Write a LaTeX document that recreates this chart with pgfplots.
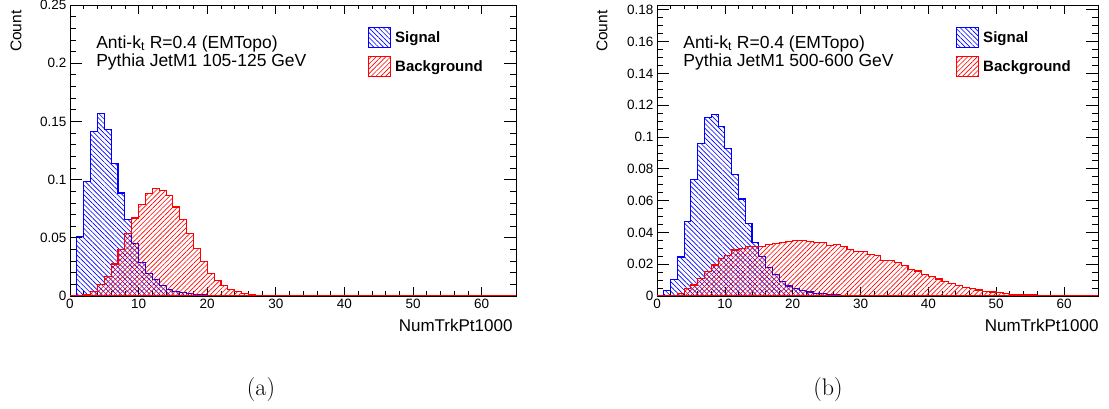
\documentclass[border=0pt]{standalone}
\usepackage{pgfplots}
\pgfplotsset{compat=1.18}
\usepackage{pgfplotstable}
\usepackage{fontspec}
\usetikzlibrary{patterns.meta}
\newfontfamily\rootfont{Liberation Sans}

% NumTrkPt1000, 105-125 GeV: bin left edge, signal, background
\pgfplotstableread{
x sig bkg
0 0 0
1 0.0512 0.0003
2 0.0980 0.0015
3 0.1410 0.0040
4 0.1570 0.0095
5 0.1430 0.0170
6 0.1140 0.0275
7 0.0885 0.0400
8 0.0660 0.0535
9 0.0450 0.0670
10 0.0290 0.0785
11 0.0190 0.0880
12 0.0138 0.0920
13 0.0093 0.0910
14 0.0055 0.0860
15 0.0038 0.0765
16 0.0028 0.0660
17 0.0019 0.0540
18 0.0013 0.0410
19 0.0009 0.0295
20 0.0006 0.0190
21 0.0004 0.0135
22 0.0003 0.0092
23 0.0002 0.0055
24 0.0001 0.0035
25 0 0.0022
26 0 0.0012
27 0 0.0007
28 0 0.0004
29 0 0.0002
30 0 0.0001
31 0 0
65 0 0
}\histlow

% NumTrkPt1000, 500-600 GeV
\pgfplotstableread{
x sig bkg
0 0.0004 0
1 0.0033 0.0001
2 0.0105 0.0004
3 0.0245 0.0015
4 0.0467 0.0048
5 0.0730 0.0069
6 0.0958 0.0109
7 0.1120 0.0153
8 0.1140 0.0195
9 0.1068 0.0236
10 0.0930 0.0257
11 0.0766 0.0289
12 0.0610 0.0300
13 0.0456 0.0310
14 0.0335 0.0314
15 0.0250 0.0312
16 0.0180 0.0326
17 0.0135 0.0330
18 0.0090 0.0335
19 0.0063 0.0340
20 0.0048 0.0350
21 0.0033 0.0347
22 0.0025 0.0345
23 0.0018 0.0337
24 0.0013 0.0335
25 0.0010 0.0318
26 0.0007 0.0322
27 0.0005 0.0312
28 0.0004 0.0292
29 0.0003 0.0282
30 0.0002 0.0280
31 0.0001 0.0260
32 0 0.0255
33 0 0.0226
34 0 0.0222
35 0 0.0210
36 0 0.0190
37 0 0.0165
38 0 0.0157
39 0 0.0135
40 0 0.0121
41 0 0.0107
42 0 0.0090
43 0 0.0080
44 0 0.0068
45 0 0.0055
46 0 0.0046
47 0 0.0038
48 0 0.0030
49 0 0.0025
50 0 0.0020
51 0 0.0016
52 0 0.0012
53 0 0.0010
54 0 0.0008
55 0 0.0006
56 0 0.0004
57 0 0.0003
58 0 0.0002
59 0 0.0002
60 0 0.0001
61 0 0
65 0 0
}\histhigh

\tikzset{
  infotext/.style={anchor=base west, font=\rootfont\fontsize{17.5}{17.5}\selectfont},
}

\pgfplotsset{
  rootaxis/.style={
    scale only axis, height=291pt,
    xmin=0, xmax=65, ymin=0,
    axis line style={line width=0.9pt},
    tick align=inside,
    xtick={0,10,20,30,40,50,60}, minor x tick num=4,
    major tick length=12pt, minor tick length=6pt,
    tick style={black, line width=0.7pt},
    xtick style={/pgfplots/major tick length=9pt, /pgfplots/minor tick length=4.5pt},
    scaled y ticks=false,
    yticklabel style={/pgf/number format/fixed, /pgf/number format/precision=2},
    /pgf/number format/assume math mode=true,
    tick label style={font=\rootfont\fontsize{13.5}{13.5}\selectfont},
    legend cell align=left,
    legend image code/.code={
      \draw[##1, line width=1pt] (0pt,-10pt) rectangle (22pt,10pt);
      \path (26pt,0pt);
    },
    legend style={draw=none, fill=none, inner sep=0pt, row sep=8pt,
      font=\rootfont\bfseries\fontsize{15}{15}\selectfont,
      nodes={inner sep=0pt}},
  },
  sig/.style={const plot, draw=blue, line width=1.1pt,
    pattern={Lines[angle=-45,distance=3.4pt,line width=0.65pt]}, pattern color=blue},
  bkg/.style={const plot, draw=red, line width=1.1pt,
    pattern={Lines[angle=45,distance=3.4pt,line width=0.65pt]}, pattern color=red},
}

\begin{document}
\begin{tikzpicture}
\useasboundingbox (0,0) rectangle (1109pt,409pt);

\begin{axis}[rootaxis, at={(70pt,113pt)}, anchor=south west, width=446pt,
  ymax=0.25, ytick={0,0.05,0.1,0.15,0.2,0.25}, minor y tick num=4,
  legend style={at={(0.668,0.924)}, anchor=north west}]
\addplot[sig] table[x=x, y=sig] {\histlow} \closedcycle;
\addlegendentry{Signal}
\addplot[bkg] table[x=x, y=bkg] {\histlow} \closedcycle;
\addlegendentry{Background}
\node[infotext] at (rel axis cs:0.051,0.852) {Anti-k\textsubscript{t} R=0.4 (EMTopo)};
\node[infotext] at (rel axis cs:0.051,0.790) {Pythia JetM1 105-125 GeV};
\end{axis}

\begin{axis}[rootaxis, at={(657pt,113pt)}, anchor=south west, width=441pt,
  ymax=0.183, ytick={0,0.02,0.04,0.06,0.08,0.1,0.12,0.14,0.16,0.18}, minor y tick num=3,
  legend style={at={(0.678,0.924)}, anchor=north west}]
\addplot[sig] table[x=x, y=sig] {\histhigh} \closedcycle;
\addlegendentry{Signal}
\addplot[bkg] table[x=x, y=bkg] {\histhigh} \closedcycle;
\addlegendentry{Background}
\node[infotext] at (rel axis cs:0.052,0.852) {Anti-k\textsubscript{t} R=0.4 (EMTopo)};
\node[infotext] at (rel axis cs:0.052,0.790) {Pythia JetM1 500-600 GeV};
\end{axis}

\node[rotate=90, anchor=east, font=\rootfont\fontsize{15.5}{15.5}\selectfont] at (16pt,402pt) {Count};
\node[rotate=90, anchor=east, font=\rootfont\fontsize{15.5}{15.5}\selectfont] at (602pt,402pt) {Count};
\node[anchor=base east, font=\rootfont\fontsize{17}{17}\selectfont] at (516pt,77pt) {NumTrkPt1000};
\node[anchor=base east, font=\rootfont\fontsize{17}{17}\selectfont] at (1102pt,77pt) {NumTrkPt1000};
\node[anchor=base, font=\fontsize{24}{24}\selectfont] at (261pt,13pt) {(a)};
\node[anchor=base, font=\fontsize{24}{24}\selectfont] at (828pt,13pt) {(b)};
\end{tikzpicture}
\end{document}
